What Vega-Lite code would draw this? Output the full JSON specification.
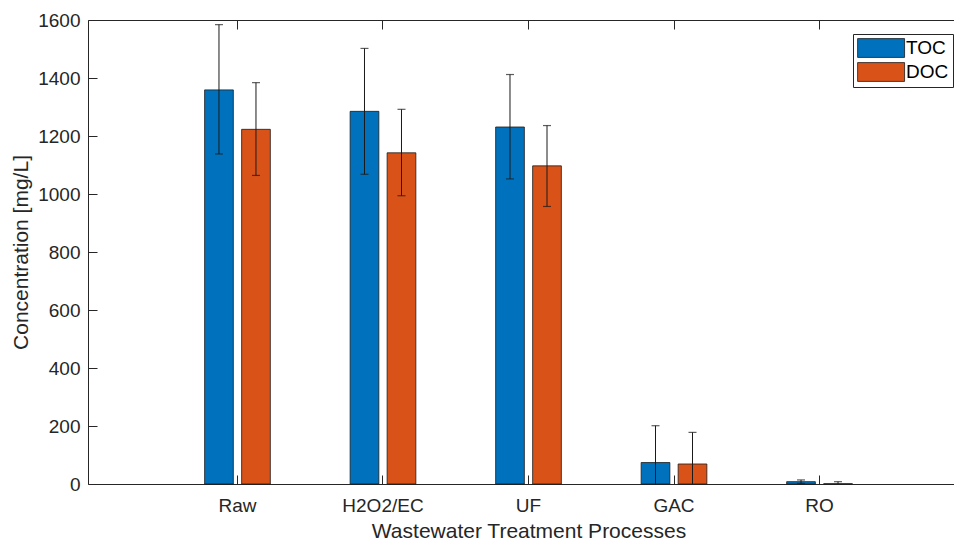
{
  "$schema": "https://vega.github.io/schema/vega-lite/v6.json",
  "width": 866,
  "height": 464,
  "autosize": "none",
  "padding": {"left": 88, "top": 20, "right": 0, "bottom": 56},
  "background": "white",
  "config": {
    "view": {"stroke": null},
    "font": "Liberation Sans",
    "axis": {
      "labelFont": "Liberation Sans",
      "labelFontSize": 19,
      "labelFontWeight": "normal",
      "labelColor": "#262626",
      "titleFont": "Liberation Sans",
      "titleFontSize": 21,
      "titleFontWeight": "normal",
      "titleColor": "#262626",
      "domainColor": "#262626",
      "tickColor": "#262626",
      "grid": false
    }
  },
  "data": {
    "values": [
      {"process": "Raw", "type": "TOC", "value": 1359, "low": 1138, "high": 1584},
      {"process": "Raw", "type": "DOC", "value": 1223, "low": 1064, "high": 1384},
      {"process": "H2O2/EC", "type": "TOC", "value": 1285, "low": 1068, "high": 1502},
      {"process": "H2O2/EC", "type": "DOC", "value": 1142, "low": 994, "high": 1292},
      {"process": "UF", "type": "TOC", "value": 1231, "low": 1052, "high": 1412},
      {"process": "UF", "type": "DOC", "value": 1097, "low": 957, "high": 1236},
      {"process": "GAC", "type": "TOC", "value": 74, "low": -53, "high": 201},
      {"process": "GAC", "type": "DOC", "value": 69, "low": -40, "high": 178},
      {"process": "RO", "type": "TOC", "value": 8, "low": 2, "high": 14},
      {"process": "RO", "type": "DOC", "value": 1, "low": -6, "high": 8}
    ]
  },
  "resolve": {"axis": {"x": "independent"}},
  "encoding": {
    "x": {
      "field": "process",
      "type": "nominal",
      "sort": ["Raw", "H2O2/EC", "UF", "GAC", "RO"],
      "scale": {"range": [0, 881], "paddingInner": 0.4914, "paddingOuter": 0.773, "align": 0.5},
      "axis": null
    },
    "xOffset": {
      "field": "type",
      "type": "nominal",
      "sort": ["TOC", "DOC"],
      "scale": {"paddingInner": 0.224, "paddingOuter": 0.112}
    }
  },
  "layer": [
    {
      "mark": {"type": "bar", "stroke": "#1a1a1a", "strokeWidth": 0.8},
      "encoding": {
        "x": {
          "field": "process",
          "type": "nominal",
          "sort": ["Raw", "H2O2/EC", "UF", "GAC", "RO"],
          "scale": {"range": [0, 881], "paddingInner": 0.4914, "paddingOuter": 0.773, "align": 0.5},
          "axis": {
            "orient": "bottom",
            "title": "Wastewater Treatment Processes",
            "labelAngle": 0,
            "tickSize": -9,
            "labelPadding": 21,
            "titlePadding": 5
          }
        },
        "y": {
          "field": "value",
          "type": "quantitative",
          "scale": {"domain": [0, 1600], "nice": false},
          "axis": {
            "title": "Concentration [mg/L]",
            "values": [0, 200, 400, 600, 800, 1000, 1200, 1400, 1600],
            "format": "d",
            "tickSize": -9,
            "labelPadding": 17,
            "titlePadding": 6
          }
        },
        "fill": {
          "field": "type",
          "type": "nominal",
          "sort": ["TOC", "DOC"],
          "scale": {"domain": ["TOC", "DOC"], "range": ["#0072BD", "#D95319"]},
          "legend": {
            "title": null,
            "orient": "none",
            "legendX": 765,
            "legendY": 14,
            "strokeColor": "#262626",
            "fillColor": "white",
            "padding": 4,
            "symbolType": "M-1,-1H4V1H-1Z",
            "symbolSize": 353,
            "symbolStrokeColor": "#1a1a1a",
            "symbolStrokeWidth": 0.8,
            "labelFont": "Liberation Sans",
            "labelFontSize": 19,
            "labelColor": "#000000",
            "labelOffset": 29,
            "rowPadding": 2
          }
        }
      }
    },
    {
      "mark": {"type": "rule", "clip": true, "color": "#1a1a1a", "strokeWidth": 1},
      "encoding": {
        "y": {"field": "low", "type": "quantitative"},
        "y2": {"field": "high"}
      }
    },
    {
      "mark": {"type": "tick", "clip": true, "color": "#1a1a1a", "size": 8, "thickness": 1.2},
      "encoding": {
        "y": {"field": "high", "type": "quantitative"}
      }
    },
    {
      "mark": {"type": "tick", "clip": true, "color": "#1a1a1a", "size": 8, "thickness": 1.2},
      "encoding": {
        "x": {
          "field": "process",
          "type": "nominal",
          "sort": ["Raw", "H2O2/EC", "UF", "GAC", "RO"],
          "scale": {"range": [0, 881], "paddingInner": 0.4914, "paddingOuter": 0.773, "align": 0.5},
          "axis": {"orient": "top", "labels": false, "title": null, "tickSize": -9}
        },
        "y": {"field": "low", "type": "quantitative"}
      }
    }
  ]
}
